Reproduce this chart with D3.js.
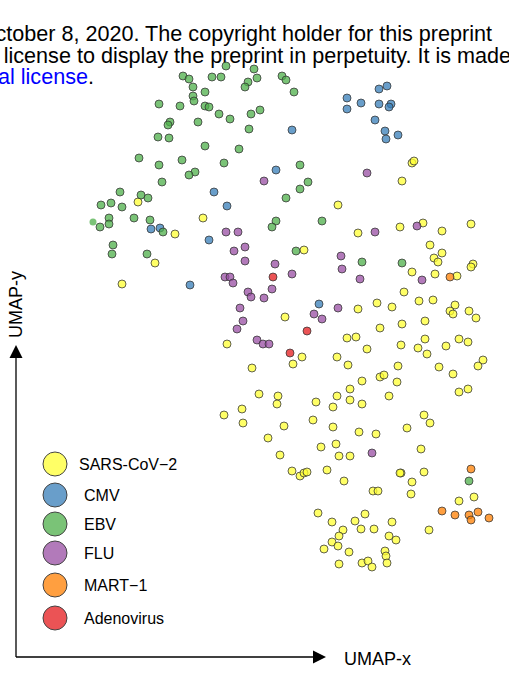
<!DOCTYPE html>
<html><head><meta charset="utf-8">
<script src="https://cdn.jsdelivr.net/npm/d3@7"></script>
<style>
html,body{margin:0;padding:0;background:#fff;overflow:hidden;}
svg{display:block;font-family:"Liberation Sans",Arial,Helvetica,sans-serif;}
</style>
</head><body>
<svg id="chart" width="509" height="686"></svg>
<script>
// Legend categories and colours
const categories = ["SARS-CoV\u22122", "CMV", "EBV", "FLU", "MART\u22121", "Adenovirus"];
const colors = ["#FFFF33", "#377EB8", "#4DAF4A", "#984EA3", "#FF7F00", "#E41A1C"];

// UMAP coordinates [UMAP-x, UMAP-y] per group
const sarsCoV2 = [
 [13.8,49.8],[20.3,48.2],[17.5,46.6],[33.8,49.5],[35.8,46.7],[41.2,53.7],[41.4,53.9],[40.2,51.9],
 [40.0,47.3],[42.3,47.7],[44.2,46.9],[47.1,47.6],[15.5,43.7],[12.2,41.6],[22.7,35.6],[30.4,45.0],
 [35.8,39.1],[28.5,38.3],[34.7,36.2],[35.6,36.3],[36.7,35.1],[30.2,34.3],[29.3,33.6],[33.7,34.3],
 [34.8,33.5],[25.2,33.2],[36.2,31.9],[35.0,31.1],[25.9,30.6],[27.8,30.4],[27.7,29.6],[33.7,30.4],
 [35.0,30.0],[36.2,29.6],[31.6,29.8],[33.3,29.3],[24.2,29.1],[43.0,45.5],[44.2,44.7],[43.4,44.2],
 [43.8,43.8],[41.2,42.8],[43.5,42.6],[45.7,42.4],[47.3,43.6],[47.1,43.3],[40.4,40.8],[37.7,39.7],
 [39.2,39.3],[41.9,39.9],[43.3,40.0],[45.5,39.5],[45.0,38.9],[45.3,38.6],[46.9,38.9],[47.6,38.2],
 [38.0,37.2],[40.2,37.6],[42.5,37.9],[40.1,35.5],[41.8,35.2],[42.5,36.1],[42.7,34.6],[44.6,35.4],
 [45.9,36.1],[46.8,35.8],[48.3,34.0],[47.8,33.4],[39.8,33.4],[38.0,32.3],[38.4,32.5],[39.7,31.8],
 [43.9,33.3],[45.3,32.6],[45.9,30.8],[46.8,31.1],[38.9,30.4],[22.4,28.5],[24.3,27.7],[28.4,27.4],
 [31.3,28.0],[33.3,27.3],[35.9,26.8],[26.8,26.2],[32.1,25.3],[33.6,25.6],[33.9,24.4],[35.0,24.4],
 [28.0,24.5],[29.2,22.9],[30.0,22.4],[30.4,22.7],[30.7,22.8],[32.7,23.0],[34.4,21.9],[31.8,18.7],
 [33.2,17.8],[34.3,17.0],[35.5,17.9],[36.5,18.6],[36.1,17.1],[33.9,16.4],[33.2,15.8],[33.8,15.4],
 [32.4,15.1],[34.9,14.8],[33.9,13.6],[36.2,13.7],[36.8,13.9],[42.4,28.5],[43.0,27.7],[40.7,27.2],
 [37.6,26.6],[42.1,25.1],[40.1,22.7],[40.0,22.7],[42.4,22.8],[41.2,21.8],[41.1,20.6],[37.3,20.9],
 [37.8,20.9],[47.4,20.3],[45.9,19.9],[39.2,17.8],[37.4,17.1],[42.9,17.0],[38.9,16.4],[39.6,16.0],
 [38.5,14.9],[38.6,14.4],[38.7,13.7],[37.2,13.3]
];
const cmv = [
 [21.4,50.8],[22.7,49.4],[15.1,47.1],[16.0,47.2],[34.7,60.2],[36.1,59.7],[34.7,59.1],[29.2,57.0],
 [27.6,53.0],[37.9,61.1],[38.7,61.4],[37.9,59.6],[39.1,59.6],[38.9,59.3],[37.5,58.0],[38.5,56.9],
 [38.6,56.1],[39.8,56.5],[20.9,46.0],[19.0,41.5],[31.9,39.6]
];
const ebv = [
 [22.6,63.4],[18.3,62.4],[18.9,62.1],[21.2,62.3],[22.1,62.3],[19.3,61.3],[20.5,60.8],[19.3,60.4],
 [19.4,59.9],[15.9,59.6],[18.0,59.4],[20.5,59.4],[20.9,59.3],[21.9,58.6],[23.0,58.1],[19.8,57.8],
 [17.0,57.8],[16.8,57.5],[15.8,56.3],[16.9,56.2],[20.5,55.4],[13.9,54.2],[15.9,53.5],[18.2,54.0],
 [22.4,53.7],[19.5,52.8],[18.9,52.5],[16.2,51.8],[12.0,50.8],[14.1,50.5],[14.8,50.2],[10.1,49.5],
 [11.1,49.7],[12.2,49.3],[10.9,48.2],[10.9,47.6],[10.0,47.3],[13.4,48.2],[15.0,48.0],
 [16.3,46.8],[25.4,63.1],[25.7,62.2],[24.8,61.8],[24.5,61.3],[28.2,62.4],[28.6,62.0],[29.4,60.8],
 [25.1,58.6],[26.0,59.0],[24.9,57.1],[23.9,55.1],[30.0,53.5],[30.8,51.8],[30.0,51.1],[28.6,50.2],
 [27.6,47.9],[27.2,47.3],[32.2,47.9],[11.3,45.5],[11.2,44.6],[14.7,44.6],[29.6,44.9],[36.2,43.8],
 [40.2,43.7],[46.9,21.9]
];
const ebvFaint = [[9.3,47.8]];
const flu = [
 [22.6,46.8],[36.7,52.7],[26.4,51.9],[23.8,46.8],[37.5,46.8],[41.7,47.4],[23.4,44.9],[24.5,45.3],
 [24.5,43.9],[27.5,43.6],[34.1,44.4],[34.2,43.1],[29.2,42.6],[36.0,42.1],[22.5,42.3],[23.0,42.3],
 [23.3,41.7],[24.8,40.8],[25.1,40.3],[26.4,40.2],[27.2,41.1],[31.4,38.6],[32.2,38.1],[33.8,39.2],
 [24.0,39.2],[24.3,37.9],[23.7,37.1],[25.7,36.0],[26.3,35.6],[26.9,35.6],[42.2,42.0],[37.2,24.7]
];
const mart1 = [[45.0,42.3],[47.1,23.1],[44.2,18.9],[45.5,18.5],[46.9,18.5],[47.1,18.0],[47.8,18.8],[48.9,18.2]];
const adenovirus = [[27.3,42.3],[30.7,36.9],[29.0,34.7]];

const groups = [sarsCoV2, cmv, ebv, flu, mart1, adenovirus];

// Header text lines (page overlay of the preprint)
const headerLines = ["October 8, 2020. The copyright holder for this preprint",
                     "a license to display the preprint in perpetuity. It is made"];
const headerLink = "International license";

const svg = d3.select("#chart");
const W = 509, H = 686;

const x = d3.scaleLinear().domain([0, 50.9]).range([0, W]);
const y = d3.scaleLinear().domain([0, 70]).range([700, 0]);
const color = d3.scaleOrdinal().domain(d3.range(categories.length)).range(colors);

// header
const hdr = svg.append("g").attr("font-size", 21.6).attr("fill", "#000");
hdr.append("text").attr("x", 492).attr("y", 41).attr("text-anchor", "end").text(headerLines[0]);
hdr.append("text").attr("x", 511).attr("y", 63).attr("text-anchor", "end").text(headerLines[1]);
const t3 = hdr.append("text").attr("x", 94).attr("y", 84).attr("text-anchor", "end");
t3.append("tspan").attr("fill", "#0000FF").text(headerLink);
t3.append("tspan").attr("fill", "#000").text(".");

// points
const pts = svg.append("g");
groups.forEach((arr, gi) => {
  pts.selectAll(null).data(arr).join("circle")
    .attr("cx", d => x(d[0])).attr("cy", d => y(d[1])).attr("r", 4)
    .attr("fill", color(gi)).attr("fill-opacity", 0.75)
    .attr("stroke", "#333").attr("stroke-opacity", 0.85).attr("stroke-width", 0.9);
});
pts.selectAll(null).data(ebvFaint).join("circle")
  .attr("cx", d => x(d[0])).attr("cy", d => y(d[1])).attr("r", 3.5)
  .attr("fill", color(2)).attr("fill-opacity", 0.75);

// axes arrows
const ax = svg.append("g").attr("stroke", "#000").attr("stroke-width", 1.3);
ax.append("line").attr("x1", 16).attr("y1", 657).attr("x2", 314).attr("y2", 657);
ax.append("line").attr("x1", 16).attr("y1", 657).attr("x2", 16).attr("y2", 357);
svg.append("path").attr("d", "M313,650.5L326,657L313,663.5Z").attr("fill", "#000");
svg.append("path").attr("d", "M9.5,358L16,345L22.5,358Z").attr("fill", "#000");
svg.append("text").attr("x", 344).attr("y", 665).attr("font-size", 18).text("UMAP-x");
svg.append("text").attr("transform", "translate(22,338) rotate(-90)").attr("font-size", 18).text("UMAP-y");

// legend
const legY = [464, 495, 524, 553, 585, 618];
const legLabX = [79, 84, 84, 84, 84, 84];
const leg = svg.append("g");
categories.forEach((c, i) => {
  leg.append("circle").attr("cx", 55).attr("cy", legY[i]).attr("r", 12)
    .attr("fill", color(i)).attr("fill-opacity", 0.75)
    .attr("stroke", "#444").attr("stroke-width", 1);
  leg.append("text").attr("x", legLabX[i]).attr("y", legY[i] + 5.5).attr("font-size", 16).text(c);
});
</script>
</body></html>
